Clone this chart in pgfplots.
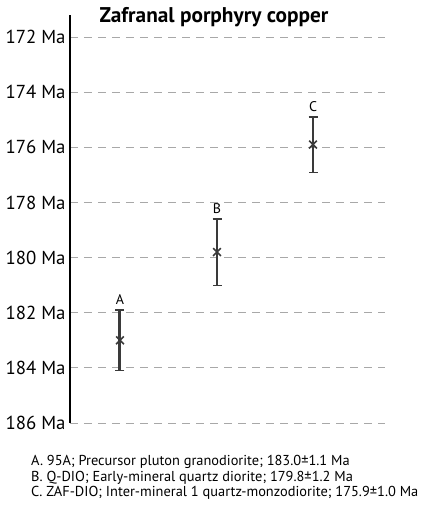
\documentclass[border=0pt]{standalone}
\usepackage{fontspec}
\setmainfont{PT Sans}
\usepackage{pgfplots}
\usepackage{pgfplotstable}
\pgfplotsset{compat=1.18}
\definecolor{bar}{HTML}{3A3A3A}
\definecolor{gridc}{HTML}{A8A8A8}
\pgfplotstableread{
x y err lab
50 183.0 1.1 A
147 179.8 1.2 B
243 175.9 1.0 C
}\ages
\begin{document}
\begin{tikzpicture}[x=1pt,y=1pt]
\path (-70,15) rectangle (353,-493);
\begin{axis}[
  at={(0,0)}, anchor=north west,
  scale only axis, width=315pt, height=408pt,
  xmin=0, xmax=315, ymin=171.2, ymax=186,
  y dir=reverse,
  axis x line=none,
  axis y line*=left,
  y axis line style={line width=1.4pt, -},
  ytick={172,174,...,186},
  yticklabels={172 Ma,174 Ma,176 Ma,178 Ma,180 Ma,182 Ma,184 Ma,186 Ma},
  yticklabel style={font=\fontsize{18.8}{20}\selectfont, xshift=-1pt},
  major tick length=0pt,
  ymajorgrids,
  grid style={gridc, line width=1pt, dash pattern=on 8pt off 6pt},
  clip=false,
]
\addplot[bar, line width=1.4pt, only marks, mark=x, mark size=5.5pt,
  mark options={line width=1.6pt},
  error bars/.cd, y dir=both, y explicit,
  error bar style={line width=1.5pt, bar},
  error mark options={rotate=90, mark size=4.5pt, line width=1.2pt, bar}]
  table[x=x, y=y, y error=err] {\ages};
\addplot[bar, line width=3pt, forget plot] coordinates {(50,181.9) (50,184.1)};
\addplot[only marks, mark=none, point meta=explicit symbolic,
  nodes near coords, nodes near coords style={anchor=south, font=\fontsize{14}{16}\selectfont, yshift=2pt}]
  table[x=x, y expr=\thisrow{y}-\thisrow{err}, meta=lab] {\ages};
\end{axis}
\node[anchor=base, font=\bfseries\fontsize{21.3}{24}\selectfont] at (144,-8) {Zafranal porphyry copper};
\node[anchor=north west, align=left, font=\fontsize{14.4}{15.6}\selectfont, inner sep=0pt] at (-39,-440) {A. 95A; Precursor pluton granodiorite; 183.0±1.1 Ma\\B. Q-DIO; Early-mineral quartz diorite; 179.8±1.2 Ma\\C. ZAF-DIO; Inter-mineral 1 quartz-monzodiorite; 175.9±1.0 Ma};
\end{tikzpicture}
\end{document}
